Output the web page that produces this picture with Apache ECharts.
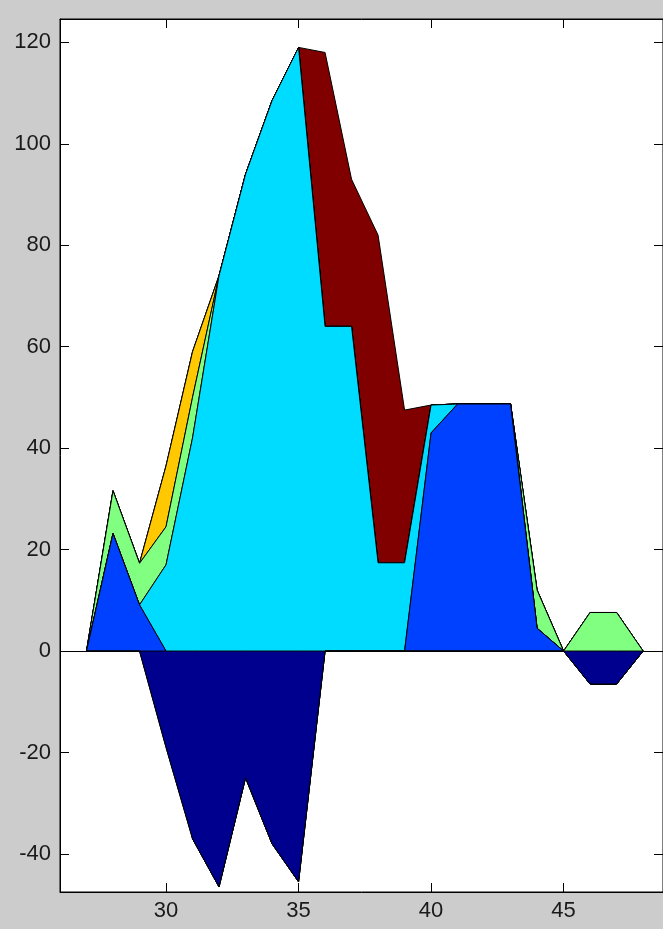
<!DOCTYPE html>
<html>
<head>
<meta charset="utf-8">
<script src="https://cdn.jsdelivr.net/npm/echarts@6/dist/echarts.min.js"></script>
<style>
  html, body { margin: 0; padding: 0; background: #cccccc; }
  #chart { width: 663px; height: 929px; }
</style>
</head>
<body>
<div id="chart"></div>
<script>
// x positions
const xValues = [27, 28, 29, 30, 31, 32, 33, 34, 35, 36, 37, 38, 39, 40, 41, 42, 43, 44, 45, 46, 47, 48];
// series values (MATLAB-style area: each series is stacked on the running sum of the previous ones)
const series1 = [0, 0, 0, -19, -37, -46.5, -25, -38, -45.5, 0, 0, 0, 0, 0, 0, 0, 0, 0, 0, -6.5, -6.5, 0];
const series2 = [0, 23.2, 9.1, 19, 0, 0, 0, 0, 0, 0, 0, 0, 0, 43, 48.7, 48.7, 48.7, 4.5, 0, 0, 0, 0];
const series3 = [0, 0, 0, 17, 79, 120.5, 119, 146.5, 164.5, 64, 64, 17.4, 17.4, 5.5, 0, 0, 0, 0, 0, 0, 0, 0];
const series4 = [0, 8.4, 8.2, 7.5, 8, 0, 0, 0, 0, 0, 0, 0, 0, 0, 0, 0, 0, 7.5, 0, 14.1, 14.1, 0];
const series5 = [0, 0, 0, 12, 9, 0, 0, 0, 0, 0, 0, 0, 0, 0, 0, 0, 0, 0, 0, 0, 0, 0];
const series6 = [0, 0, 0, 0, 0, 0, 0, 0, 0, 54, 29, 64.6, 30.1, 0, 0, 0, 0, 0, 0, 0, 0, 0];
// tick labels
const xTicks = [30, 35, 40, 45];
const yTicks = [-40, -20, 0, 20, 40, 60, 80, 100, 120];

const allSeries = [series1, series2, series3, series4, series5, series6];
const colors = ['#00008f', '#0040ff', '#00dcff', '#80ff80', '#ffc800', '#800000'];

// running sums: band k lies between level k-1 and level k
const levels = [xValues.map(function () { return 0; })];
allSeries.forEach(function (vals, i) {
  levels.push(vals.map(function (v, j) { return levels[i][j] + v; }));
});

const chart = echarts.init(document.getElementById('chart'), null, { renderer: 'canvas' });

const labelStyle = {
  color: '#1a1a1a',
  fontFamily: 'Liberation Sans, Arial, sans-serif',
  fontSize: 22,
  lineHeight: 22
};

const seriesList = allSeries.map(function (vals, i) {
  const lower = levels[i];
  const upper = levels[i + 1];
  return {
    type: 'custom',
    name: 's' + (i + 1),
    xAxisIndex: 0,
    yAxisIndex: 0,
    coordinateSystem: 'cartesian2d',
    z: 10 - i,
    silent: true,
    clip: true,
    data: xValues.map(function (x, j) { return [x, upper[j], lower[j]]; }),
    renderItem: function (params, api) {
      if (params.dataIndex !== 0) return null;
      const pts = [];
      for (let j = 0; j < xValues.length; j++) pts.push(api.coord([xValues[j], upper[j]]));
      for (let j = xValues.length - 1; j >= 0; j--) pts.push(api.coord([xValues[j], lower[j]]));
      return {
        type: 'polygon',
        shape: { points: pts },
        style: { fill: colors[i], stroke: '#000', lineWidth: 1, lineJoin: 'miter' }
      };
    }
  };
});

// baseline at zero
seriesList.push({
  type: 'line',
  data: [],
  xAxisIndex: 0,
  yAxisIndex: 0,
  z: 12,
  silent: true,
  markLine: {
    silent: true,
    symbol: 'none',
    label: { show: false },
    lineStyle: { color: '#000', width: 1, type: 'solid' },
    data: [{ yAxis: 0 }]
  }
});

const option = {
  animation: false,
  backgroundColor: '#cccccc',
  grid: {
    left: 60, top: 19, right: -3, bottom: 37,
    show: true, backgroundColor: '#ffffff', borderColor: '#000', borderWidth: 1
  },
  xAxis: [
    {
      type: 'value', min: 26, max: 48.75, position: 'bottom',
      axisLine: { show: true, onZero: false, lineStyle: { color: '#000', width: 1 } },
      axisTick: { show: true, inside: true, length: 9, customValues: xTicks, lineStyle: { color: '#000' } },
      axisLabel: Object.assign({ show: true, margin: 8, customValues: xTicks }, labelStyle),
      splitLine: { show: false }
    },
    {
      type: 'value', min: 26, max: 48.75, position: 'top',
      axisLine: { show: true, onZero: false, lineStyle: { color: '#000', width: 1 } },
      axisTick: { show: true, inside: true, length: 9, customValues: xTicks, lineStyle: { color: '#000' } },
      axisLabel: { show: false },
      splitLine: { show: false }
    }
  ],
  yAxis: [
    {
      type: 'value', min: -47.5, max: 124.6, position: 'left',
      axisLine: { show: true, onZero: false, lineStyle: { color: '#000', width: 1 } },
      axisTick: { show: true, inside: true, length: 9, customValues: yTicks, lineStyle: { color: '#000' } },
      axisLabel: Object.assign({ show: true, margin: 9, customValues: yTicks }, labelStyle),
      splitLine: { show: false }
    },
    {
      type: 'value', min: -47.5, max: 124.6, position: 'right',
      axisLine: { show: true, onZero: false, lineStyle: { color: '#000', width: 1 } },
      axisTick: { show: true, inside: true, length: 9, customValues: yTicks, lineStyle: { color: '#000' } },
      axisLabel: { show: false },
      splitLine: { show: false }
    }
  ],
  series: seriesList
};

chart.setOption(option);
</script>
</body>
</html>
